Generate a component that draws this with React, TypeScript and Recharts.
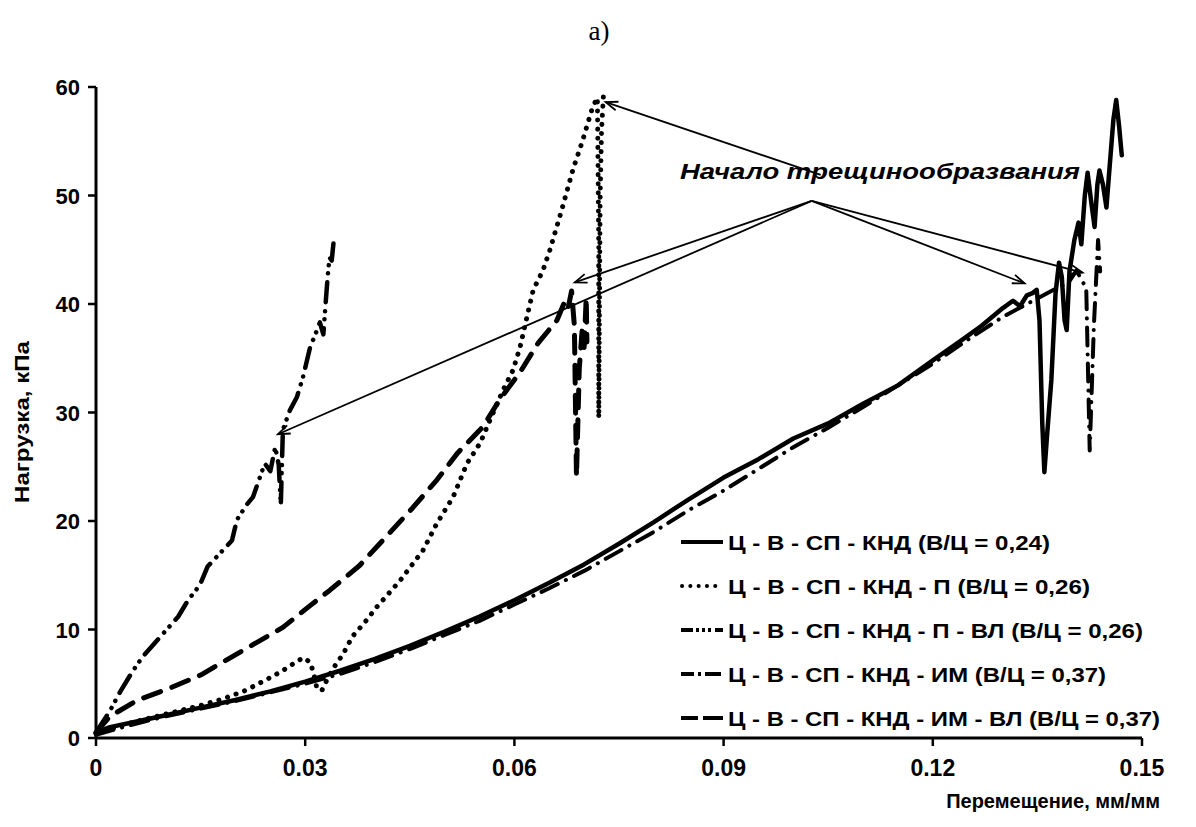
import React from "react";
import { LineChart, Line, XAxis, YAxis, ReferenceLine } from "recharts";

const W = 1196;
const H = 827;

const xTicks = [0, 0.03, 0.06, 0.09, 0.12, 0.15];
const yTicks = [0, 10, 20, 30, 40, 50, 60];

// Ц - В - СП - КНД (В/Ц = 0,24) — solid
const kndX = [0, 0.002, 0.005, 0.01, 0.015, 0.02, 0.025, 0.03, 0.035, 0.04, 0.045, 0.05, 0.055, 0.06, 0.065, 0.07, 0.075, 0.08, 0.085, 0.09, 0.095, 0.1, 0.105, 0.11, 0.115, 0.12, 0.124, 0.127, 0.13, 0.1315, 0.1325, 0.1335, 0.1343, 0.1349, 0.1353, 0.1357, 0.136, 0.1364, 0.137, 0.1376, 0.1381, 0.1385, 0.1389, 0.1392, 0.1396, 0.1403, 0.1409, 0.1413, 0.1418, 0.1422, 0.1427, 0.1432, 0.1436, 0.1439, 0.1444, 0.1449, 0.1454, 0.1459, 0.1463, 0.1467, 0.1471];
const kndY = [0.5, 1.0, 1.4, 2.1, 2.8, 3.5, 4.3, 5.2, 6.2, 7.3, 8.5, 9.8, 11.2, 12.7, 14.3, 16.0, 17.9, 19.9, 22.0, 24.0, 25.7, 27.6, 29.0, 30.8, 32.5, 34.8, 36.6, 38.0, 39.6, 40.3, 39.8, 40.8, 41.0, 41.3, 38.5, 29.0, 24.5, 28.0, 33.0, 41.0, 43.8, 42.5, 38.5, 37.6, 43.0, 45.9, 47.5, 45.5, 50.0, 52.1, 49.5, 47.1, 51.0, 52.3, 51.0, 48.9, 53.0, 57.0, 58.8, 56.5, 53.7];

// Ц - В - СП - КНД - П (В/Ц = 0,26) — dotted
const pX = [0, 0.005, 0.01, 0.015, 0.0182, 0.0215, 0.0245, 0.0265, 0.0282, 0.0297, 0.0307, 0.0312, 0.0317, 0.0324, 0.0333, 0.0345, 0.0353, 0.036, 0.0367, 0.0386, 0.0403, 0.0436, 0.0469, 0.0489, 0.0512, 0.0532, 0.0551, 0.0565, 0.0584, 0.0598, 0.0608, 0.0618, 0.0627, 0.0641, 0.0651, 0.0668, 0.0684, 0.0698, 0.0711, 0.0715, 0.0719, 0.0721, 0.0721, 0.0723, 0.0725, 0.0728];
const pY = [0.4, 1.4, 2.2, 3.0, 3.6, 4.4, 5.4, 6.1, 6.8, 7.4, 7.0, 6.0, 4.5, 4.4, 5.6, 6.9, 7.6, 8.4, 9.3, 10.7, 12.1, 14.5, 17.3, 19.8, 22.2, 25.3, 27.2, 29.3, 32.1, 33.9, 36.0, 38.8, 41.3, 43.1, 45.0, 48.7, 52.4, 55.1, 57.9, 58.5, 59.0, 45.0, 29.5, 50.0, 56.0, 59.6];

// Ц - В - СП - КНД - П - ВЛ (В/Ц = 0,26) — dash-dot-dot
const pvlX = [0, 0.002, 0.0035, 0.0052, 0.0067, 0.0085, 0.0118, 0.0132, 0.0149, 0.016, 0.0195, 0.0202, 0.0216, 0.0225, 0.0242, 0.025, 0.0257, 0.0262, 0.0265, 0.0268, 0.0278, 0.0288, 0.0297, 0.0307, 0.0317, 0.0321, 0.0326, 0.0331, 0.0333, 0.0335, 0.0338, 0.0341];
const pvlY = [0.5, 2.5, 4.3, 6.1, 7.5, 8.8, 11.2, 12.7, 14.1, 15.8, 18.2, 20.1, 21.5, 22.2, 25.3, 24.6, 26.8, 25.2, 21.5, 28.4, 30.2, 31.4, 33.3, 36.0, 37.6, 38.3, 37.2, 41.5, 43.1, 44.3, 44.0, 45.9];

// Ц - В - СП - КНД - ИМ (В/Ц = 0,37) — dash-dot
const imX = [0, 0.005, 0.01, 0.015, 0.02, 0.025, 0.03, 0.035, 0.04, 0.045, 0.05, 0.055, 0.06, 0.065, 0.07, 0.075, 0.08, 0.085, 0.09, 0.095, 0.1, 0.105, 0.11, 0.115, 0.12, 0.125, 0.13, 0.1335, 0.137, 0.1395, 0.1406, 0.1415, 0.142, 0.1425, 0.1431, 0.1437, 0.144];
const imY = [0.3, 1.2, 2.0, 2.7, 3.4, 4.2, 5.0, 5.9, 7.0, 8.2, 9.5, 10.8, 12.3, 13.8, 15.4, 17.2, 19.0, 21.0, 22.8, 24.8, 26.8, 28.6, 30.5, 32.5, 34.5, 36.7, 38.8, 40.0, 41.2, 42.0, 43.1, 42.0, 41.6, 26.5, 38.0, 45.9, 43.0];

// Ц - В - СП - КНД - ИМ - ВЛ (В/Ц = 0,37) — dashed
const imvlX = [0, 0.002, 0.006, 0.0106, 0.015, 0.0182, 0.0225, 0.0268, 0.0307, 0.0335, 0.0378, 0.0421, 0.0454, 0.0489, 0.0519, 0.0555, 0.0579, 0.0608, 0.0634, 0.0661, 0.0672, 0.0677, 0.0682, 0.0686, 0.0689, 0.0693, 0.0697, 0.07, 0.0703, 0.0704];
const imvlY = [0.5, 2.0, 3.5, 4.6, 5.8, 7.0, 8.6, 10.2, 12.2, 13.6, 15.9, 18.9, 21.2, 23.8, 26.3, 28.7, 31.2, 33.7, 36.4, 38.5, 40.2, 39.6, 41.2, 38.0, 24.1, 34.0, 37.5, 36.0, 40.6, 36.5];

const zip = (xs: number[], ys: number[]) => xs.map((x, i) => ({ x, y: ys[i] }));

const series = [
  { name: "Ц - В - СП - КНД (В/Ц = 0,24)", data: zip(kndX, kndY), dash: undefined, width: 4.5 },
  { name: "Ц - В - СП - КНД - П (В/Ц = 0,26)", data: zip(pX, pY), dash: "0.1 9", width: 5 },
  { name: "Ц - В - СП - КНД - П - ВЛ (В/Ц = 0,26)", data: zip(pvlX, pvlY), dash: "20 9 0.1 8 0.1 9", width: 4.5 },
  { name: "Ц - В - СП - КНД - ИМ (В/Ц = 0,37)", data: zip(imX, imY), dash: "18 9 0.1 9", width: 4 },
  { name: "Ц - В - СП - КНД - ИМ - ВЛ (В/Ц = 0,37)", data: zip(imvlX, imvlY), dash: "18 12", width: 5 },
];

// annotation arrows "Начало трещинообразвания" (data coords)
const arrows = [
  [{ x: 0.10392, y: 51.9 }, { x: 0.07309, y: 58.6 }],
  [{ x: 0.10263, y: 49.5 }, { x: 0.02609, y: 28.0 }],
  [{ x: 0.10263, y: 49.5 }, { x: 0.06866, y: 42.0 }],
  [{ x: 0.10263, y: 49.5 }, { x: 0.13316, y: 41.9 }],
  [{ x: 0.10263, y: 49.5 }, { x: 0.14147, y: 42.9 }],
];

const Arrow = (p: any) => {
  const { x1, y1, x2, y2 } = p;
  const a = Math.atan2(y2 - y1, x2 - x1);
  const bx = x2 - 12 * Math.cos(a);
  const by = y2 - 12 * Math.sin(a);
  const nx = -Math.sin(a) * 4.5;
  const ny = Math.cos(a) * 4.5;
  return (
    <g>
      <line x1={x1} y1={y1} x2={x2} y2={y2} stroke="#000" strokeWidth={1.8} />
      <polyline
        points={`${bx + nx},${by + ny} ${x2},${y2} ${bx - nx},${by - ny}`}
        fill="none"
        stroke="#000"
        strokeWidth={1.8}
      />
    </g>
  );
};

const font = "'Liberation Sans', Arial, sans-serif";

const XTick = (p: any) => {
  const v = p.payload.value;
  return (
    <text
      x={p.x}
      y={p.y + 28}
      textAnchor="middle"
      fill="#000"
      fontFamily={"'Liberation Sans Narrow', " + font}
      fontWeight={700}
      fontSize={23}
    >
      {v === 0 ? "0" : v.toFixed(2)}
    </text>
  );
};

const YTick = (p: any) => (
  <text
    x={p.x}
    y={p.y + 8}
    textAnchor="end"
    fill="#000"
    fontFamily={font}
    fontWeight={700}
    fontSize={22}
  >
    {p.payload.value}
  </text>
);

const legendRows = [542, 586, 630, 674, 718];
const legendTextW = [322, 362, 415, 378, 432];
const legendDash = [undefined, "0.1 8.2", "12 3 3 3 3 3 3 4 12", "13 4 3 4 16", "17 5 20"];

export default function App() {
  return (
    <div style={{ position: "absolute", left: 0, top: 0, width: W, height: H, background: "#fff" }}>
      <LineChart width={W} height={H} margin={{ top: 87, right: 54, left: 36, bottom: 49 }}>
        <XAxis
          dataKey="x"
          type="number"
          domain={[0, 0.15]}
          ticks={xTicks}
          height={40}
          axisLine={{ stroke: "#000", strokeWidth: 3 }}
          tickLine={{ stroke: "#000", strokeWidth: 2.5 }}
          tickSize={8}
          tick={<XTick />}
        />
        <YAxis
          dataKey="y"
          type="number"
          domain={[0, 60]}
          ticks={yTicks}
          width={60}
          axisLine={{ stroke: "#000", strokeWidth: 3 }}
          tickLine={{ stroke: "#000", strokeWidth: 2.5 }}
          tickSize={8}
          tickMargin={8}
          tick={<YTick />}
        />
        {series.map((s) => (
          <Line
            key={s.name}
            data={s.data}
            dataKey="y"
            name={s.name}
            type="linear"
            stroke="#000"
            strokeWidth={s.width}
            strokeDasharray={s.dash}
            strokeLinecap="round"
            strokeLinejoin="round"
            dot={false}
            activeDot={false}
            isAnimationActive={false}
          />
        ))}
        {arrows.map((seg, i) => (
          <ReferenceLine key={i} segment={seg} shape={Arrow} ifOverflow="visible" />
        ))}
      </LineChart>

      <svg
        width={W}
        height={H}
        style={{ position: "absolute", left: 0, top: 0, pointerEvents: "none" }}
      >
        <text x={599} y={40} textAnchor="middle" fontFamily="'Liberation Serif', serif" fontSize={27}>
          a)
        </text>
        <text
          x={0}
          y={0}
          transform="translate(29 422) rotate(-90)"
          textAnchor="middle"
          fontFamily={font}
          fontWeight={700}
          fontSize={21}
          textLength={162}
          lengthAdjust="spacingAndGlyphs"
        >
          Нагрузка, кПа
        </text>
        <text
          x={1160}
          y={808}
          textAnchor="end"
          fontFamily={font}
          fontWeight={700}
          fontSize={20}
        >
          Перемещение, мм/мм
        </text>
        <text
          x={680}
          y={179}
          fontFamily={font}
          fontWeight={700}
          fontStyle="italic"
          fontSize={22}
          textLength={400}
          lengthAdjust="spacingAndGlyphs"
        >
          Начало трещинообразвания
        </text>

        {series.map((s, i) => {
          const y = legendRows[i];
          return (
            <g key={s.name}>
              <line
                x1={i === 1 ? 682 : 681}
                y1={y}
                x2={723}
                y2={y}
                stroke="#000"
                strokeWidth={4}
                strokeLinecap={i === 1 ? "round" : "butt"}
                strokeDasharray={legendDash[i]}
              />
              <text
                x={728}
                y={y + 8}
                fontFamily={font}
                fontWeight={700}
                fontSize={21}
                textLength={legendTextW[i]}
                lengthAdjust="spacingAndGlyphs"
              >
                {s.name}
              </text>
            </g>
          );
        })}
      </svg>
    </div>
  );
}
